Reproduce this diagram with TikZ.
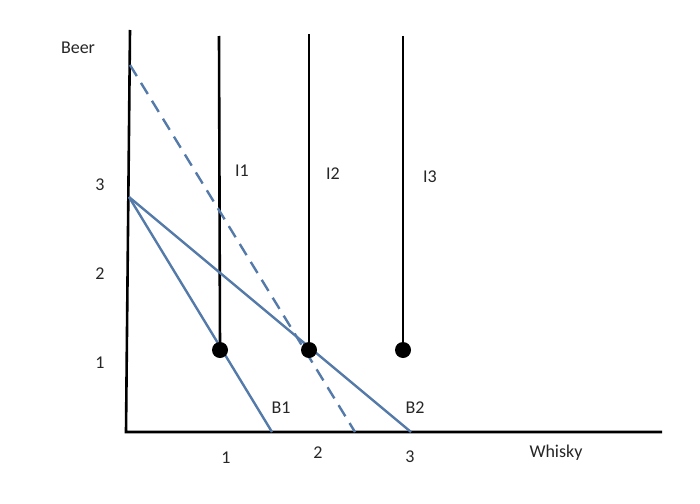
\documentclass[tikz,border=0pt]{standalone}
\usepackage{fontspec}
\setmainfont{Carlito}
\begin{document}
\begin{tikzpicture}[x=1pt,y=-1pt,
  axis/.style={line width=2.6pt,black},
  indiff/.style={line width=2.6pt,black},
  budget/.style={line width=2.4pt,color=budgetblue},
  dot/.style={circle,fill=black,inner sep=0pt,minimum size=16pt},
  lbl/.style={font=\fontsize{18}{20}\selectfont,text=black!85,inner sep=0pt}]
\definecolor{budgetblue}{RGB}{84,122,170}
\useasboundingbox (0,0) rectangle (700,503);
% axes
\coordinate (ytop) at (130,30);
\coordinate (O) at (126,432);
\coordinate (xend) at (662,432);
\draw[axis] (ytop) -- (O) -- (xend);
% indifference curve coordinates
\coordinate (p1) at (220,350);
\coordinate (p2) at (309,350);
\coordinate (p3) at (403,350);
\coordinate (t1) at (219,36);
\coordinate (t2) at (309,34);
\coordinate (t3) at (403,36);
\draw[indiff] (t1) -- (p1);
\draw[indiff] (t2) -- (p2);
\draw[indiff] (t3) -- (p3);
% budget lines
\coordinate (b0) at (129,197);
\coordinate (b1) at (272,432);
\coordinate (b2) at (411,432);
\coordinate (dtop) at (130,65);
\coordinate (dend) at (355,432);
\draw[budget] (b0) -- (b1);
\draw[budget] (b0) -- (b2);
\draw[budget,dash pattern=on 13pt off 8pt] (dtop) -- (dend);
% dots
\node[dot] (d1) at (p1) {};
\node[dot] (d2) at (p2) {};
\node[dot] (d3) at (p3) {};
% labels
\node[lbl] (beer) at (78,48) {Beer};
\node[lbl] (y3) at (100,185) {3};
\node[lbl] (y2) at (100,274) {2};
\node[lbl] (y1) at (100,363) {1};
\node[lbl] (i1) at (242,171) {I1};
\node[lbl] (i2) at (333,174) {I2};
\node[lbl] (i3) at (430,177) {I3};
\node[lbl] (lb1) at (281,408) {B1};
\node[lbl] (lb2) at (415,408) {B2};
\node[lbl] (x1) at (226,458) {1};
\node[lbl] (x2) at (318,453) {2};
\node[lbl] (x3) at (410,457) {3};
\node[lbl] (whisky) at (556,453) {Whisky};
\end{tikzpicture}
\end{document}
